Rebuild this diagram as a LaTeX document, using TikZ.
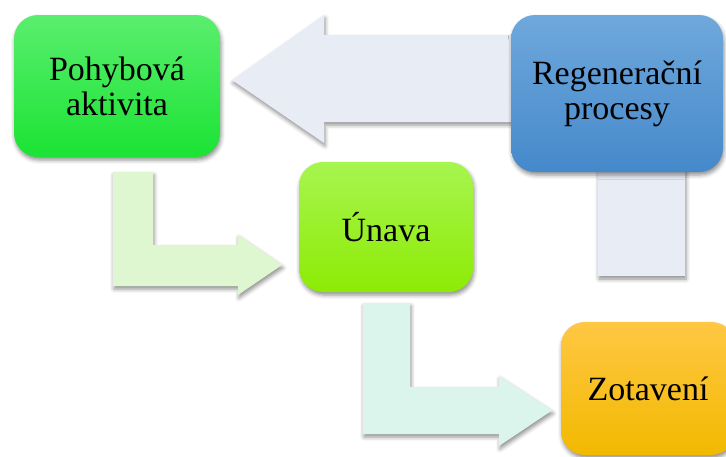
\documentclass[tikz,border=0pt]{standalone}
\usepackage{fontspec}
\setmainfont{Liberation Serif}
\newfontfamily\boxfont{Liberation Serif}
\usetikzlibrary{shadows.blur}
\definecolor{gA}{HTML}{5AEE6E}
\definecolor{gB}{HTML}{1BE334}
\definecolor{bA}{HTML}{6FA8DC}
\definecolor{bB}{HTML}{4589CB}
\definecolor{lA}{HTML}{A7F54F}
\definecolor{lB}{HTML}{8DEB05}
\definecolor{oA}{HTML}{FFC743}
\definecolor{oB}{HTML}{F2B900}
\definecolor{arrBlue}{HTML}{E8ECF4}
\definecolor{arrGreen}{HTML}{DEF7D0}
\definecolor{arrMint}{HTML}{DBF5EC}
\tikzset{
  softshadow/.style={blur shadow={shadow xshift=1pt, shadow yshift=-3pt, shadow blur radius=4pt, shadow opacity=45}},
  box/.style={rounded corners=24pt, align=center, inner sep=0pt, text=black,
    font=\boxfont\fontsize{34}{35}\selectfont, softshadow},
  fatarrow/.style={softshadow},
}
\begin{document}
\begin{tikzpicture}[x=1pt,y=-1pt]
\useasboundingbox (0,0) rectangle (726,456);
\clip (0,0) rectangle (726,456);
% big arrow from Regenerační procesy to Pohybová aktivita
\fill[arrBlue, fatarrow] (232,80) -- (324,15) -- (324,35) -- (560,35) -- (560,122) -- (324,122) -- (324,143) -- cycle;
% bar below Regenerační procesy
\fill[arrBlue, fatarrow] (598,150) rectangle (685,276);
% L arrow 1
\fill[arrGreen, fatarrow] (113,172) -- (153,172) -- (153,245) -- (238,245) -- (238,235) -- (282,265) -- (238,295) -- (238,286) -- (113,286) -- cycle;
% L arrow 2
\fill[arrMint, fatarrow] (363,303) -- (410,303) -- (410,387) -- (499,387) -- (499,376) -- (552,410.5) -- (499,446) -- (499,434) -- (363,434) -- cycle;
% boxes
\node[box, top color=gA, bottom color=gB, minimum width=206pt, minimum height=142pt] (pohyb) at (117,86) {Pohybová\\aktivita};
\node[box, top color=bA, bottom color=bB, minimum width=212pt, minimum height=157pt] (regen) at (617,93.5) {Regenerační\\procesy};
\node[box, top color=lA, bottom color=lB, minimum width=174pt, minimum height=130pt] (unava) at (386,227) {Únava};
\node[box, top color=oA, bottom color=oB, minimum width=174pt, minimum height=133pt] (zotav) at (648,388.5) {Zotavení};
\end{tikzpicture}
\end{document}
